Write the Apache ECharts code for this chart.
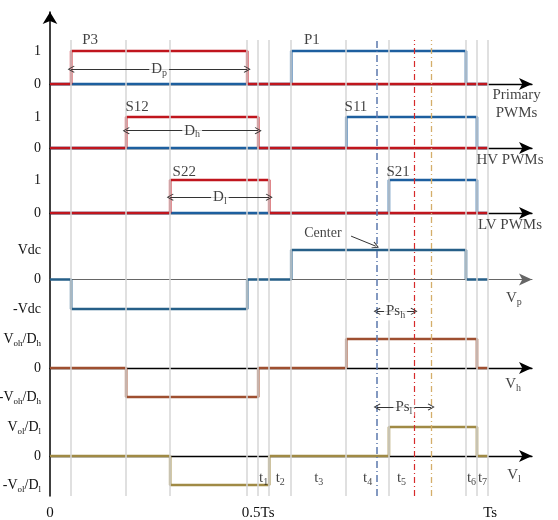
<!DOCTYPE html>
<html>
<head>
<meta charset="UTF-8">
<title>PWM timing</title>
<script src="https://cdn.jsdelivr.net/npm/echarts@6/dist/echarts.min.js"></script>
<style>html,body{margin:0;padding:0;background:#fff}#main{width:558px;height:520px}</style>
</head>
<body>
<div id="main"></div>
<script>
// time in % of Ts
var tMax = 109.5;
var guideT = [4.8, 17.3, 27.3, 44.8, 47.3, 49.8, 54.8, 67.3, 77.0, 94.5, 97.0, 99.5];
var centerT = 74.3, pshT = 82.7, pslT = 86.6;

// switching signals: level held from t[i] until t[i+1]
var p3T  = [0, 4.8, 44.8, 99.5],  p3V  = [0, 1, 0, 0];
var p1T  = [0, 54.8, 94.5, 99.5], p1V  = [0, 1, 0, 0];
var s12T = [0, 17.3, 47.3, 99.5], s12V = [0, 1, 0, 0];
var s11T = [0, 67.3, 97.0, 99.5], s11V = [0, 1, 0, 0];
var s22T = [0, 27.3, 49.8, 99.5], s22V = [0, 1, 0, 0];
var s21T = [0, 77.0, 97.0, 99.5], s21V = [0, 1, 0, 0];
// bridge voltages (-1 / 0 / +1 levels)
var vpT = [0, 4.8, 44.8, 54.8, 94.5, 99.5],  vpV = [0, -1, 0, 1, 0, 0];
var vhT = [0, 17.3, 47.3, 67.3, 97.0, 99.5], vhV = [0, -1, 0, 1, 0, 0];
var vlT = [0, 27.3, 49.8, 77.0, 97.0, 99.5], vlV = [0, -1, 0, 1, 0, 0];

var tickVals = [0, 47.3, 100];
var tickText = ['0', '0.5Ts', 'Ts'];
var intNames = ['1', '2', '3', '4', '5', '6', '7'];
var intBounds = [47.3, 49.8, 54.8, 67.3, 77.0, 82.7, 94.5, 97.0, 99.5];
var intIdx = [[0,1],[1,2],[2,3],[3,4],[4,5],[6,7],[7,8]];

var FONT = '"Liberation Serif", "DejaVu Serif", serif';
var RED = '#c0151d', BLUE = '#1d5f9f', VP = '#265f88', VH = '#9e4f30', VL = '#a08a45';
var rich = {
  n: {fontFamily: FONT, fontSize: 15, color: '#111', lineHeight: 18},
  s: {fontFamily: FONT, fontSize: 10, color: '#111', lineHeight: 9, verticalAlign: 'bottom'},
  ny: {fontFamily: FONT, fontSize: 14, color: '#111', lineHeight: 18},
  sy: {fontFamily: FONT, fontSize: 9, color: '#111', lineHeight: 9, verticalAlign: 'bottom'}
};
var chevron = 'path://M5,0 L10,9 L9,10 L5,2.5 L1,10 L0,9 Z';

var rows = [ // grid top / height / y range
  {top: 51, height: 33, min: 0, max: 1}, {top: 117, height: 31, min: 0, max: 1},
  {top: 180, height: 33, min: 0, max: 1},
  {top: 220.5, height: 118, min: -2, max: 2}, {top: 339, height: 58, min: -1, max: 1},
  {top: 398, height: 116, min: -2, max: 2}
];

var grids = [
  {left: 50, right: 26, top: 12, bottom: 24, outerBoundsMode: 'none', containLabel: false},
  {left: 50, right: 26, top: 40, bottom: 24, outerBoundsMode: 'none', containLabel: false}
];
var xAxes = [
  {type: 'value', gridIndex: 0, min: 0, max: tMax, axisLine: {show: false}, axisTick: {show: false},
   splitLine: {show: false},
   axisLabel: {customValues: tickVals, margin: 10, fontFamily: FONT, fontSize: 15, color: '#111',
     formatter: function (v) { var i = tickVals.indexOf(v); return i < 0 ? '' : tickText[i]; }}},
  {type: 'value', gridIndex: 1, min: 0, max: tMax, show: false}
];
var yAxes = [
  {type: 'value', gridIndex: 0, min: 0, max: 1, axisLabel: {show: false}, axisTick: {show: false},
   splitLine: {show: false},
   axisLine: {show: true, symbol: ['none', 'arrow'], symbolSize: [11, 12], lineStyle: {color: '#000', width: 1.5}}},
  {type: 'value', gridIndex: 1, min: 0, max: 1, show: false}
];

function lvl(hi, zero, lo) {
  return function (v) { return v === 1 ? hi : v === 0 ? zero : v === -1 ? lo : ''; };
}
var pwmLab = lvl('{ny|1}', '{ny|0}', '');
var yLabs = [pwmLab, pwmLab, pwmLab,
  lvl('{ny|Vdc}', '{ny|0}', '{ny|-Vdc}'),
  lvl('{ny|V}{sy|oh}{ny|/D}{sy|h}', '{ny|0}', '{ny|-V}{sy|oh}{ny|/D}{sy|h}'),
  lvl('{ny|V}{sy|ol}{ny|/D}{sy|l}', '{ny|0}', '{ny|-V}{sy|ol}{ny|/D}{sy|l}')
];
rows.forEach(function (r, i) {
  var gi = i + 2;
  grids.push({left: 50, right: 26, top: r.top, height: r.height, outerBoundsMode: 'none', containLabel: false});
  xAxes.push({type: 'value', gridIndex: gi, min: 0, max: tMax, axisTick: {show: false}, axisLabel: {show: false},
    splitLine: {show: false},
    axisLine: {show: true, onZero: true, symbol: ['none', 'arrow'], symbolSize: [9, 13],
      lineStyle: {color: i === 3 ? '#666' : '#000', width: i === 3 ? 1 : 1.3}}});
  yAxes.push({type: 'value', gridIndex: gi, min: r.min, max: r.max, interval: 1,
    axisLine: {show: false}, axisTick: {show: false}, splitLine: {show: false},
    axisLabel: {margin: 9, formatter: yLabs[i], rich: rich}});
});

function wave(gi, T, V, color, w) {
  return {type: 'line', xAxisIndex: gi, yAxisIndex: gi, step: 'end', symbol: 'none', clip: false,
    silent: true, z: 3, lineStyle: {color: color, width: w},
    data: T.map(function (t, k) { return [t, V[k]]; })};
}
function texts(gi, items) {
  return {type: 'scatter', xAxisIndex: gi, yAxisIndex: gi, symbolSize: 0, clip: false, silent: true, z: 6,
    data: items.map(function (it) {
      return {value: [it[0], it[1]], label: {show: true, position: 'inside', formatter: it[2], rich: rich,
        backgroundColor: it[3] ? '#fff' : 'transparent', padding: it[3] ? [0, 2] : 0, lineHeight: 18}};
    })};
}
function arrows(gi, lines) {
  return {type: 'line', xAxisIndex: gi, yAxisIndex: gi, data: [], z: 5,
    markLine: {silent: true, animation: false, label: {show: false},
      data: lines.map(function (l) {
        return [{coord: [l[0], l[1]], symbol: l[4] || chevron, symbolSize: l[4] === 'none' ? 0 : 7},
                {coord: [l[2], l[3]], symbol: chevron, symbolSize: 7,
                 lineStyle: {color: '#333', width: 1, type: 'solid'}}];
      })}};
}

var guides = guideT.map(function (t) {
  return {xAxis: t, lineStyle: {color: '#d6d6d6', width: 1.5, type: 'solid'}};
});
guides.push({xAxis: centerT, lineStyle: {color: '#5b78ad', width: 1.5, type: [7, 3, 1, 3]}});
guides.push({xAxis: pshT, lineStyle: {color: '#d62a2a', width: 1.2, type: [6, 3, 1, 3]}});
guides.push({xAxis: pslT, lineStyle: {color: '#d4ae6a', width: 1.3, type: [6, 3, 1, 3]}});

var series = [
  {type: 'line', xAxisIndex: 1, yAxisIndex: 1, data: [], z: 1,
   markLine: {silent: true, animation: false, symbol: 'none', label: {show: false}, data: guides}},
  wave(2, p1T, p1V, BLUE, 2.6), wave(2, p3T, p3V, RED, 2.6),
  wave(3, s11T, s11V, BLUE, 2.6), wave(3, s12T, s12V, RED, 2.6),
  wave(4, s21T, s21V, BLUE, 2.6), wave(4, s22T, s22V, RED, 2.6),
  wave(5, vpT, vpV, VP, 2.6), wave(6, vhT, vhV, VH, 2.6), wave(7, vlT, vlV, VL, 2.6),
  arrows(2, [[4.8, 0.45, 44.8, 0.45]]),
  arrows(3, [[17.3, 0.56, 47.3, 0.56]]),
  arrows(4, [[27.3, 0.48, 49.8, 0.48]]),
  arrows(5, [[centerT, -1.08, pshT, -1.08], [68.4, 1.47, centerT - 0.3, 1.13, 'none']]),
  arrows(7, [[centerT, 1.69, pslT, 1.69]]),
  texts(2, [[9.1, 1.33, '{n|P3}'], [59.5, 1.33, '{n|P1}'], [24.8, 0.45, '{n|D}{s|p}', 1],
            [106, -0.62, '{n|Primary}\n{n|PWMs}']]),
  texts(3, [[19.8, 1.32, '{n|S12}'], [69.5, 1.32, '{n|S11}'], [32.3, 0.56, '{n|D}{s|h}', 1],
            [104.5, -0.4, '{n|HV PWMs}']]),
  texts(4, [[30.5, 1.25, '{n|S22}'], [79.1, 1.25, '{n|S21}'], [38.6, 0.48, '{n|D}{s|l}', 1],
            [104.5, -0.37, '{n|LV PWMs}']]),
  texts(5, [[62, 1.56, '{ny|Center}'], [78.5, -1.08, '{n|Ps}{s|h}', 1], [105.4, -0.64, '{n|V}{s|p}']]),
  texts(6, [[105.2, -0.55, '{n|V}{s|h}']]),
  texts(7, [[80.4, 1.69, '{n|Ps}{s|l}', 1], [105.4, -0.66, '{n|V}{s|l}']].concat(
    intIdx.map(function (p, k) {
      return [(intBounds[p[0]] + intBounds[p[1]]) / 2, -0.76, '{n|t}{s|' + intNames[k] + '}'];
    })))
];

var chart = echarts.init(document.getElementById('main'));
chart.setOption({
  animation: false,
  backgroundColor: '#fff',
  grid: grids,
  xAxis: xAxes,
  yAxis: yAxes,
  series: series
});
</script>
</body>
</html>
